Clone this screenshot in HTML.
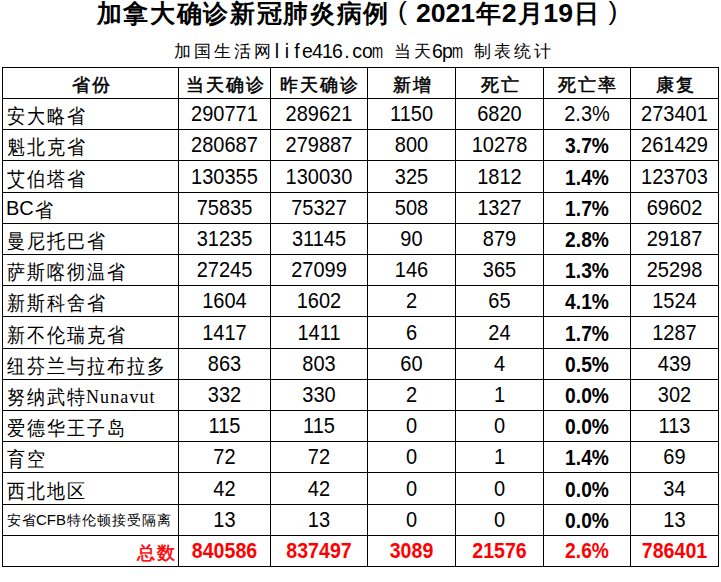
<!DOCTYPE html>
<html><head><meta charset="utf-8"><style>
html,body{margin:0;padding:0;background:#fff;}
body{width:721px;height:582px;position:relative;overflow:hidden;font-family:"Liberation Sans",sans-serif;color:#000;}
.l{position:absolute;background:#000;}
.c{position:absolute;height:31px;line-height:31px;font-size:20px;white-space:nowrap;text-align:center;}
.n{font-size:22px;transform:scaleX(0.909);margin-top:-1px;}
.nb{font-size:22px;transform:scaleX(0.8727);}
.nr{font-size:22px;transform:scaleX(0.89);margin-top:-1px;}
.nrp{font-size:22px;transform:scaleX(0.8727);margin-top:-1px;}
.b{font-weight:bold;}
.r{color:#f00;font-weight:bold;}
.t{position:absolute;white-space:nowrap;}
.k{display:inline-block;text-align:center;line-height:1;position:relative;}
.m{display:inline-block;width:10px;text-align:center;font-size:19.5px;line-height:1;}
.m i{font-style:normal;display:inline-block;width:10px;text-align:left;transform:scaleX(0.68);transform-origin:0 50%;}
.sf{font-family:"Liberation Serif",serif;font-size:18px;letter-spacing:1.1px;position:relative;top:1px;}
.hd{-webkit-text-stroke:0.5px #000;}
.rt{-webkit-text-stroke:0.5px #f00;}
</style></head><body>

<div class="t" style="left:96px;top:-3px;font-size:26.67px;line-height:32px;font-weight:bold;"><span class="k" style="width:26.67px;font-size:24.7px;top:0px">加</span><span class="k" style="width:26.67px;font-size:24.7px;top:0px">拿</span><span class="k" style="width:26.67px;font-size:24.7px;top:0px">大</span><span class="k" style="width:26.67px;font-size:24.7px;top:0px">确</span><span class="k" style="width:26.67px;font-size:24.7px;top:0px">诊</span><span class="k" style="width:26.67px;font-size:24.7px;top:0px">新</span><span class="k" style="width:26.67px;font-size:24.7px;top:0px">冠</span><span class="k" style="width:26.67px;font-size:24.7px;top:0px">肺</span><span class="k" style="width:26.67px;font-size:24.7px;top:0px">炎</span><span class="k" style="width:26.67px;font-size:24.7px;top:0px">病</span><span class="k" style="width:26.67px;font-size:24.7px;top:0px">例</span><span class="k" style="width:26.67px;font-weight:normal;top:-2px;font-size:26.67px">(</span>2021<span class="k" style="width:26.67px;font-size:24.7px;top:0px">年</span>2<span class="k" style="width:26.67px;font-size:24.7px;top:0px">月</span>19<span class="k" style="width:26.67px;font-size:24.7px;top:0px">日</span><span class="k" style="width:26.67px;font-weight:normal;top:-2px;font-size:26.67px">)</span></div>
<div class="t" style="left:172px;top:37px;font-size:20px;line-height:28px;"><span class="k" style="width:20px;font-size:17px;top:-1px">加</span><span class="k" style="width:20px;font-size:17px;top:-1px">国</span><span class="k" style="width:20px;font-size:17px;top:-1px">生</span><span class="k" style="width:20px;font-size:17px;top:-1px">活</span><span class="k" style="width:20px;font-size:17px;top:-1px">网</span><span class="m">l</span><span class="m">i</span><span class="m">f</span><span class="m">e</span><span class="m">4</span><span class="m">1</span><span class="m">6</span><span class="m">.</span><span class="m">c</span><span class="m">o</span><span class="m"><i>m</i></span><span class="m">&nbsp;</span><span class="k" style="width:20px;font-size:17px;top:-1px">当</span><span class="k" style="width:20px;font-size:17px;top:-1px">天</span><span class="m">6</span><span class="m">p</span><span class="m"><i>m</i></span><span class="m">&nbsp;</span><span class="k" style="width:20px;font-size:17px;top:-1px">制</span><span class="k" style="width:20px;font-size:17px;top:-1px">表</span><span class="k" style="width:20px;font-size:17px;top:-1px">统</span><span class="k" style="width:20px;font-size:17px;top:-1px">计</span></div>
<div class="l" style="left:2px;top:67px;width:1px;height:500px"></div>
<div class="l" style="left:178px;top:67px;width:1px;height:500px"></div>
<div class="l" style="left:270px;top:67px;width:1px;height:500px"></div>
<div class="l" style="left:367px;top:67px;width:1px;height:500px"></div>
<div class="l" style="left:455px;top:67px;width:1px;height:500px"></div>
<div class="l" style="left:543px;top:67px;width:1px;height:500px"></div>
<div class="l" style="left:630px;top:67px;width:1px;height:500px"></div>
<div class="l" style="left:718px;top:67px;width:1px;height:500px"></div>
<div class="l" style="left:2px;top:67px;width:717px;height:1px"></div>
<div class="l" style="left:2px;top:98px;width:717px;height:1px"></div>
<div class="l" style="left:2px;top:129px;width:717px;height:1px"></div>
<div class="l" style="left:2px;top:160px;width:717px;height:1px"></div>
<div class="l" style="left:2px;top:192px;width:717px;height:1px"></div>
<div class="l" style="left:2px;top:223px;width:717px;height:1px"></div>
<div class="l" style="left:2px;top:254px;width:717px;height:1px"></div>
<div class="l" style="left:2px;top:285px;width:717px;height:1px"></div>
<div class="l" style="left:2px;top:316px;width:717px;height:1px"></div>
<div class="l" style="left:2px;top:348px;width:717px;height:1px"></div>
<div class="l" style="left:2px;top:379px;width:717px;height:1px"></div>
<div class="l" style="left:2px;top:410px;width:717px;height:1px"></div>
<div class="l" style="left:2px;top:441px;width:717px;height:1px"></div>
<div class="l" style="left:2px;top:472px;width:717px;height:1px"></div>
<div class="l" style="left:2px;top:504px;width:717px;height:1px"></div>
<div class="l" style="left:2px;top:535px;width:717px;height:1px"></div>
<div class="l" style="left:2px;top:566px;width:717px;height:1px"></div>
<div class="c hd" style="left:3px;width:175px;top:68px;"><span class="k" style="width:20px;font-size:17.5px;top:1px">省</span><span class="k" style="width:20px;font-size:17.5px;top:1px">份</span></div>
<div class="c hd" style="left:179px;width:91px;top:68px;"><span class="k" style="width:20px;font-size:17.5px;top:1px">当</span><span class="k" style="width:20px;font-size:17.5px;top:1px">天</span><span class="k" style="width:20px;font-size:17.5px;top:1px">确</span><span class="k" style="width:20px;font-size:17.5px;top:1px">诊</span></div>
<div class="c hd" style="left:271px;width:96px;top:68px;"><span class="k" style="width:20px;font-size:17.5px;top:1px">昨</span><span class="k" style="width:20px;font-size:17.5px;top:1px">天</span><span class="k" style="width:20px;font-size:17.5px;top:1px">确</span><span class="k" style="width:20px;font-size:17.5px;top:1px">诊</span></div>
<div class="c hd" style="left:368px;width:87px;top:68px;"><span class="k" style="width:20px;font-size:17.5px;top:1px">新</span><span class="k" style="width:20px;font-size:17.5px;top:1px">增</span></div>
<div class="c hd" style="left:456px;width:87px;top:68px;"><span class="k" style="width:20px;font-size:17.5px;top:1px">死</span><span class="k" style="width:20px;font-size:17.5px;top:1px">亡</span></div>
<div class="c hd" style="left:544px;width:86px;top:68px;"><span class="k" style="width:20px;font-size:17.5px;top:1px">死</span><span class="k" style="width:20px;font-size:17.5px;top:1px">亡</span><span class="k" style="width:20px;font-size:17.5px;top:1px">率</span></div>
<div class="c hd" style="left:631px;width:87px;top:68px;"><span class="k" style="width:20px;font-size:17.5px;top:1px">康</span><span class="k" style="width:20px;font-size:17.5px;top:1px">复</span></div>
<div class="c " style="left:3px;width:175px;top:99px;text-align:left;padding-left:3px"><span class="k" style="width:20px;font-size:19.5px;top:2px;transform:scaleX(0.9)">安</span><span class="k" style="width:20px;font-size:19.5px;top:2px;transform:scaleX(0.9)">大</span><span class="k" style="width:20px;font-size:19.5px;top:2px;transform:scaleX(0.9)">略</span><span class="k" style="width:20px;font-size:19.5px;top:2px;transform:scaleX(0.9)">省</span></div>
<div class="c n" style="left:179px;width:91px;top:99px;">290771</div>
<div class="c n" style="left:271px;width:96px;top:99px;">289621</div>
<div class="c n" style="left:368px;width:87px;top:99px;">1150</div>
<div class="c n" style="left:456px;width:87px;top:99px;">6820</div>
<div class="c n" style="left:544px;width:86px;top:99px;">2.3%</div>
<div class="c n" style="left:631px;width:87px;top:99px;">273401</div>
<div class="c " style="left:3px;width:175px;top:130px;text-align:left;padding-left:3px"><span class="k" style="width:20px;font-size:19.5px;top:2px;transform:scaleX(0.9)">魁</span><span class="k" style="width:20px;font-size:19.5px;top:2px;transform:scaleX(0.9)">北</span><span class="k" style="width:20px;font-size:19.5px;top:2px;transform:scaleX(0.9)">克</span><span class="k" style="width:20px;font-size:19.5px;top:2px;transform:scaleX(0.9)">省</span></div>
<div class="c n" style="left:179px;width:91px;top:130px;">280687</div>
<div class="c n" style="left:271px;width:96px;top:130px;">279887</div>
<div class="c n" style="left:368px;width:87px;top:130px;">800</div>
<div class="c n" style="left:456px;width:87px;top:130px;">10278</div>
<div class="c b nb" style="left:544px;width:86px;top:130px;">3.7%</div>
<div class="c n" style="left:631px;width:87px;top:130px;">261429</div>
<div class="c " style="left:3px;width:175px;top:162px;text-align:left;padding-left:3px"><span class="k" style="width:20px;font-size:19.5px;top:2px;transform:scaleX(0.9)">艾</span><span class="k" style="width:20px;font-size:19.5px;top:2px;transform:scaleX(0.9)">伯</span><span class="k" style="width:20px;font-size:19.5px;top:2px;transform:scaleX(0.9)">塔</span><span class="k" style="width:20px;font-size:19.5px;top:2px;transform:scaleX(0.9)">省</span></div>
<div class="c n" style="left:179px;width:91px;top:162px;">130355</div>
<div class="c n" style="left:271px;width:96px;top:162px;">130030</div>
<div class="c n" style="left:368px;width:87px;top:162px;">325</div>
<div class="c n" style="left:456px;width:87px;top:162px;">1812</div>
<div class="c b nb" style="left:544px;width:86px;top:162px;">1.4%</div>
<div class="c n" style="left:631px;width:87px;top:162px;">123703</div>
<div class="c " style="left:3px;width:175px;top:193px;text-align:left;padding-left:3px">BC<span class="k" style="width:20px;font-size:19.5px;top:2px;transform:scaleX(0.9)">省</span></div>
<div class="c n" style="left:179px;width:91px;top:193px;">75835</div>
<div class="c n" style="left:271px;width:96px;top:193px;">75327</div>
<div class="c n" style="left:368px;width:87px;top:193px;">508</div>
<div class="c n" style="left:456px;width:87px;top:193px;">1327</div>
<div class="c b nb" style="left:544px;width:86px;top:193px;">1.7%</div>
<div class="c n" style="left:631px;width:87px;top:193px;">69602</div>
<div class="c " style="left:3px;width:175px;top:224px;text-align:left;padding-left:3px"><span class="k" style="width:20px;font-size:19.5px;top:2px;transform:scaleX(0.9)">曼</span><span class="k" style="width:20px;font-size:19.5px;top:2px;transform:scaleX(0.9)">尼</span><span class="k" style="width:20px;font-size:19.5px;top:2px;transform:scaleX(0.9)">托</span><span class="k" style="width:20px;font-size:19.5px;top:2px;transform:scaleX(0.9)">巴</span><span class="k" style="width:20px;font-size:19.5px;top:2px;transform:scaleX(0.9)">省</span></div>
<div class="c n" style="left:179px;width:91px;top:224px;">31235</div>
<div class="c n" style="left:271px;width:96px;top:224px;">31145</div>
<div class="c n" style="left:368px;width:87px;top:224px;">90</div>
<div class="c n" style="left:456px;width:87px;top:224px;">879</div>
<div class="c b nb" style="left:544px;width:86px;top:224px;">2.8%</div>
<div class="c n" style="left:631px;width:87px;top:224px;">29187</div>
<div class="c " style="left:3px;width:175px;top:255px;text-align:left;padding-left:3px"><span class="k" style="width:20px;font-size:19.5px;top:2px;transform:scaleX(0.9)">萨</span><span class="k" style="width:20px;font-size:19.5px;top:2px;transform:scaleX(0.9)">斯</span><span class="k" style="width:20px;font-size:19.5px;top:2px;transform:scaleX(0.9)">喀</span><span class="k" style="width:20px;font-size:19.5px;top:2px;transform:scaleX(0.9)">彻</span><span class="k" style="width:20px;font-size:19.5px;top:2px;transform:scaleX(0.9)">温</span><span class="k" style="width:20px;font-size:19.5px;top:2px;transform:scaleX(0.9)">省</span></div>
<div class="c n" style="left:179px;width:91px;top:255px;">27245</div>
<div class="c n" style="left:271px;width:96px;top:255px;">27099</div>
<div class="c n" style="left:368px;width:87px;top:255px;">146</div>
<div class="c n" style="left:456px;width:87px;top:255px;">365</div>
<div class="c b nb" style="left:544px;width:86px;top:255px;">1.3%</div>
<div class="c n" style="left:631px;width:87px;top:255px;">25298</div>
<div class="c " style="left:3px;width:175px;top:286px;text-align:left;padding-left:3px"><span class="k" style="width:20px;font-size:19.5px;top:2px;transform:scaleX(0.9)">新</span><span class="k" style="width:20px;font-size:19.5px;top:2px;transform:scaleX(0.9)">斯</span><span class="k" style="width:20px;font-size:19.5px;top:2px;transform:scaleX(0.9)">科</span><span class="k" style="width:20px;font-size:19.5px;top:2px;transform:scaleX(0.9)">舍</span><span class="k" style="width:20px;font-size:19.5px;top:2px;transform:scaleX(0.9)">省</span></div>
<div class="c n" style="left:179px;width:91px;top:286px;">1604</div>
<div class="c n" style="left:271px;width:96px;top:286px;">1602</div>
<div class="c n" style="left:368px;width:87px;top:286px;">2</div>
<div class="c n" style="left:456px;width:87px;top:286px;">65</div>
<div class="c b nb" style="left:544px;width:86px;top:286px;">4.1%</div>
<div class="c n" style="left:631px;width:87px;top:286px;">1524</div>
<div class="c " style="left:3px;width:175px;top:318px;text-align:left;padding-left:3px"><span class="k" style="width:20px;font-size:19.5px;top:2px;transform:scaleX(0.9)">新</span><span class="k" style="width:20px;font-size:19.5px;top:2px;transform:scaleX(0.9)">不</span><span class="k" style="width:20px;font-size:19.5px;top:2px;transform:scaleX(0.9)">伦</span><span class="k" style="width:20px;font-size:19.5px;top:2px;transform:scaleX(0.9)">瑞</span><span class="k" style="width:20px;font-size:19.5px;top:2px;transform:scaleX(0.9)">克</span><span class="k" style="width:20px;font-size:19.5px;top:2px;transform:scaleX(0.9)">省</span></div>
<div class="c n" style="left:179px;width:91px;top:318px;">1417</div>
<div class="c n" style="left:271px;width:96px;top:318px;">1411</div>
<div class="c n" style="left:368px;width:87px;top:318px;">6</div>
<div class="c n" style="left:456px;width:87px;top:318px;">24</div>
<div class="c b nb" style="left:544px;width:86px;top:318px;">1.7%</div>
<div class="c n" style="left:631px;width:87px;top:318px;">1287</div>
<div class="c " style="left:3px;width:175px;top:349px;text-align:left;padding-left:3px"><span class="k" style="width:20px;font-size:19.5px;top:2px;transform:scaleX(0.9)">纽</span><span class="k" style="width:20px;font-size:19.5px;top:2px;transform:scaleX(0.9)">芬</span><span class="k" style="width:20px;font-size:19.5px;top:2px;transform:scaleX(0.9)">兰</span><span class="k" style="width:20px;font-size:19.5px;top:2px;transform:scaleX(0.9)">与</span><span class="k" style="width:20px;font-size:19.5px;top:2px;transform:scaleX(0.9)">拉</span><span class="k" style="width:20px;font-size:19.5px;top:2px;transform:scaleX(0.9)">布</span><span class="k" style="width:20px;font-size:19.5px;top:2px;transform:scaleX(0.9)">拉</span><span class="k" style="width:20px;font-size:19.5px;top:2px;transform:scaleX(0.9)">多</span></div>
<div class="c n" style="left:179px;width:91px;top:349px;">863</div>
<div class="c n" style="left:271px;width:96px;top:349px;">803</div>
<div class="c n" style="left:368px;width:87px;top:349px;">60</div>
<div class="c n" style="left:456px;width:87px;top:349px;">4</div>
<div class="c b nb" style="left:544px;width:86px;top:349px;">0.5%</div>
<div class="c n" style="left:631px;width:87px;top:349px;">439</div>
<div class="c " style="left:3px;width:175px;top:380px;text-align:left;padding-left:3px"><span class="k" style="width:20px;font-size:19.5px;top:2px;transform:scaleX(0.9)">努</span><span class="k" style="width:20px;font-size:19.5px;top:2px;transform:scaleX(0.9)">纳</span><span class="k" style="width:20px;font-size:19.5px;top:2px;transform:scaleX(0.9)">武</span><span class="k" style="width:20px;font-size:19.5px;top:2px;transform:scaleX(0.9)">特</span><span class="sf">Nunavut</span></div>
<div class="c n" style="left:179px;width:91px;top:380px;">332</div>
<div class="c n" style="left:271px;width:96px;top:380px;">330</div>
<div class="c n" style="left:368px;width:87px;top:380px;">2</div>
<div class="c n" style="left:456px;width:87px;top:380px;">1</div>
<div class="c b nb" style="left:544px;width:86px;top:380px;">0.0%</div>
<div class="c n" style="left:631px;width:87px;top:380px;">302</div>
<div class="c " style="left:3px;width:175px;top:411px;text-align:left;padding-left:3px"><span class="k" style="width:20px;font-size:19.5px;top:2px;transform:scaleX(0.9)">爱</span><span class="k" style="width:20px;font-size:19.5px;top:2px;transform:scaleX(0.9)">德</span><span class="k" style="width:20px;font-size:19.5px;top:2px;transform:scaleX(0.9)">华</span><span class="k" style="width:20px;font-size:19.5px;top:2px;transform:scaleX(0.9)">王</span><span class="k" style="width:20px;font-size:19.5px;top:2px;transform:scaleX(0.9)">子</span><span class="k" style="width:20px;font-size:19.5px;top:2px;transform:scaleX(0.9)">岛</span></div>
<div class="c n" style="left:179px;width:91px;top:411px;">115</div>
<div class="c n" style="left:271px;width:96px;top:411px;">115</div>
<div class="c n" style="left:368px;width:87px;top:411px;">0</div>
<div class="c n" style="left:456px;width:87px;top:411px;">0</div>
<div class="c b nb" style="left:544px;width:86px;top:411px;">0.0%</div>
<div class="c n" style="left:631px;width:87px;top:411px;">113</div>
<div class="c " style="left:3px;width:175px;top:442px;text-align:left;padding-left:3px"><span class="k" style="width:20px;font-size:19.5px;top:2px;transform:scaleX(0.9)">育</span><span class="k" style="width:20px;font-size:19.5px;top:2px;transform:scaleX(0.9)">空</span></div>
<div class="c n" style="left:179px;width:91px;top:442px;">72</div>
<div class="c n" style="left:271px;width:96px;top:442px;">72</div>
<div class="c n" style="left:368px;width:87px;top:442px;">0</div>
<div class="c n" style="left:456px;width:87px;top:442px;">1</div>
<div class="c b nb" style="left:544px;width:86px;top:442px;">1.4%</div>
<div class="c n" style="left:631px;width:87px;top:442px;">69</div>
<div class="c " style="left:3px;width:175px;top:474px;text-align:left;padding-left:3px"><span class="k" style="width:20px;font-size:19.5px;top:2px;transform:scaleX(0.9)">西</span><span class="k" style="width:20px;font-size:19.5px;top:2px;transform:scaleX(0.9)">北</span><span class="k" style="width:20px;font-size:19.5px;top:2px;transform:scaleX(0.9)">地</span><span class="k" style="width:20px;font-size:19.5px;top:2px;transform:scaleX(0.9)">区</span></div>
<div class="c n" style="left:179px;width:91px;top:474px;">42</div>
<div class="c n" style="left:271px;width:96px;top:474px;">42</div>
<div class="c n" style="left:368px;width:87px;top:474px;">0</div>
<div class="c n" style="left:456px;width:87px;top:474px;">0</div>
<div class="c b nb" style="left:544px;width:86px;top:474px;">0.0%</div>
<div class="c n" style="left:631px;width:87px;top:474px;">34</div>
<div class="c " style="left:3px;width:175px;top:505px;text-align:left;padding-left:3px;font-size:15px;margin-top:-1px"><span class="k" style="width:15px;font-size:13.8px;top:0px">安</span><span class="k" style="width:15px;font-size:13.8px;top:0px">省</span>CFB<span class="k" style="width:15px;font-size:13.8px;top:0px">特</span><span class="k" style="width:15px;font-size:13.8px;top:0px">伦</span><span class="k" style="width:15px;font-size:13.8px;top:0px">顿</span><span class="k" style="width:15px;font-size:13.8px;top:0px">接</span><span class="k" style="width:15px;font-size:13.8px;top:0px">受</span><span class="k" style="width:15px;font-size:13.8px;top:0px">隔</span><span class="k" style="width:15px;font-size:13.8px;top:0px">离</span></div>
<div class="c n" style="left:179px;width:91px;top:505px;">13</div>
<div class="c n" style="left:271px;width:96px;top:505px;">13</div>
<div class="c n" style="left:368px;width:87px;top:505px;">0</div>
<div class="c n" style="left:456px;width:87px;top:505px;">0</div>
<div class="c b nb" style="left:544px;width:86px;top:505px;">0.0%</div>
<div class="c n" style="left:631px;width:87px;top:505px;">13</div>
<div class="c r rt" style="left:3px;width:175px;top:536px;text-align:right;width:172.5px;font-weight:normal"><span class="k" style="width:20px;font-size:17.5px;top:1px">总</span><span class="k" style="width:20px;font-size:17.5px;top:1px">数</span></div>
<div class="c r nr" style="left:179px;width:91px;top:536px;">840586</div>
<div class="c r nr" style="left:271px;width:96px;top:536px;">837497</div>
<div class="c r nr" style="left:368px;width:87px;top:536px;">3089</div>
<div class="c r nr" style="left:456px;width:87px;top:536px;">21576</div>
<div class="c r nrp" style="left:544px;width:86px;top:536px;">2.6%</div>
<div class="c r nr" style="left:631px;width:87px;top:536px;">786401</div>
</body></html>
